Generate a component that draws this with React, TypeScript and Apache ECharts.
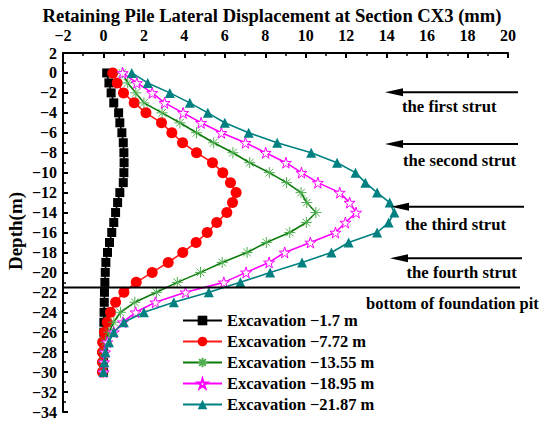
import React, { useEffect, useRef } from "react";
import * as echarts from "echarts";

const depths = [0, -1, -2, -3, -4, -5, -6, -7, -8, -9, -10, -11, -12, -13, -14, -15, -16, -17, -18, -19, -20, -21, -22, -23, -24, -25, -26, -27, -28, -29, -30];

const seriesNames = [
  "Excavation \u22121.7 m",
  "Excavation \u22127.72 m",
  "Excavation \u221213.55 m",
  "Excavation \u221218.95 m",
  "Excavation \u221221.87 m",
];

const exc1 = [0.16, 0.27, 0.38, 0.51, 0.75, 0.81, 0.91, 0.98, 1.01, 1.02, 1.01, 0.98, 0.81, 0.7, 0.6, 0.51, 0.41, 0.3, 0.2, 0.12, 0.09, 0.07, 0.05, 0.04, 0.03, 0.02, 0.02, 0.01, 0.01, 0.0, 0.0];
const exc2 = [0.46, 0.68, 0.99, 1.52, 2.1, 2.87, 3.38, 3.91, 4.6, 5.39, 5.9, 6.28, 6.56, 6.38, 6.1, 5.6, 5.13, 4.58, 3.92, 3.2, 2.41, 1.62, 1.01, 0.6, 0.35, 0.19, 0.05, -0.04, -0.05, -0.05, -0.05];
const exc3 = [0.93, 1.2, 1.6, 2.0, 2.9, 3.78, 4.6, 5.45, 6.4, 7.23, 8.2, 9.05, 9.77, 10.05, 10.5, 10.03, 9.21, 8.05, 7.1, 5.87, 4.8, 3.65, 2.62, 1.55, 0.84, 0.51, 0.27, 0.1, 0.02, 0.0, 0.0];
const exc4 = [0.95, 1.65, 2.41, 3.02, 3.94, 4.83, 5.83, 7.02, 8.02, 9.02, 9.79, 10.6, 11.68, 12.17, 12.49, 11.96, 11.47, 10.23, 8.96, 8.19, 7.05, 5.95, 4.06, 2.57, 1.59, 0.96, 0.51, 0.19, 0.08, 0.03, 0.0];
const exc5 = [1.4, 2.19, 3.28, 4.27, 5.16, 6.0, 7.18, 8.59, 10.27, 11.55, 12.46, 12.95, 13.53, 14.15, 14.38, 14.1, 13.53, 12.12, 11.27, 9.82, 8.24, 6.77, 5.21, 3.48, 2.0, 1.01, 0.51, 0.27, 0.1, 0.05, 0.0];

const strutLabels = ["the first strut", "the second strut", "the third strut", "the fourth strut"];
const pitLabel = "bottom of foundation pit";
const titleText = "Retaining Pile Lateral Displacement at Section CX3 (mm)";
const yName = "Depth(m)";

const FONT = "'Times New Roman', 'Liberation Serif', serif";
const STAR = "path://M50,0 L61,35 L98,35 L68,57 L79,91 L50,70 L21,91 L32,57 L2,35 L39,35 Z";
const ASTER = "path://M0,50 L100,50 M50,0 L50,100 M15,15 L85,85 M15,85 L85,15";

const minus = (v: number) => String(v).replace("-", "\u2212");

export default function App() {
  const ref = useRef<HTMLDivElement>(null);
  useEffect(() => {
    if (!ref.current) return;
    const chart = echarts.init(ref.current, undefined, { renderer: "svg" });
    const values = [exc1, exc2, exc3, exc4, exc5];
    const styles = [
      { symbol: "rect", size: 9, line: "#000000", item: { color: "#000000" } },
      { symbol: "circle", size: 11, line: "#ff1a1a", item: { color: "#ff0000" } },
      { symbol: ASTER, size: 11, line: "#0a7a0a", item: { color: "none", borderColor: "#4fae4f", borderWidth: 1 } },
      { symbol: STAR, size: 11, line: "#ff00ff", item: { color: "#ffffff", borderColor: "#ff00ff", borderWidth: 1 } },
      { symbol: "triangle", size: 10, line: "#008080", item: { color: "#008080" } },
    ];
    const series = values.map((vals, i) => ({
      name: seriesNames[i],
      type: "line",
      data: vals.map((v, j) => [v, depths[j]]),
      symbol: styles[i].symbol,
      symbolSize: styles[i].size,
      lineStyle: { color: styles[i].line, width: 1.6 },
      itemStyle: styles[i].item,
      z: 2 + i,
    }));

    const arrows = [
      { y: 92.3, x1: 385, x2: 518, tx: 402, ty: 106.7 },
      { y: 144, x1: 385, x2: 518, tx: 403, ty: 160 },
      { y: 206.7, x1: 391, x2: 524, tx: 405, ty: 224 },
      { y: 258.3, x1: 390, x2: 522, tx: 406.5, ty: 272 },
    ];
    const graphics: any[] = [
      {
        type: "text",
        x: 272,
        y: 15,
        style: { text: titleText, font: `bold 18.6px ${FONT}`, fill: "#000", align: "center", verticalAlign: "middle" },
      },
      {
        type: "text",
        x: 15,
        y: 231,
        rotation: Math.PI / 2,
        style: { text: yName, font: `bold 19px ${FONT}`, fill: "#000", align: "center", verticalAlign: "middle" },
      },
      {
        type: "line",
        shape: { x1: 63, y1: 287.5, x2: 520, y2: 287.5 },
        style: { stroke: "#000", lineWidth: 2 },
        z: 10,
      },
      {
        type: "text",
        x: 366,
        y: 303.5,
        style: { text: pitLabel, font: `bold 16.5px ${FONT}`, fill: "#000", align: "left", verticalAlign: "middle" },
      },
    ];
    arrows.forEach((a, i) => {
      graphics.push({
        type: "line",
        shape: { x1: a.x1 + 12, y1: a.y, x2: a.x2, y2: a.y },
        style: { stroke: "#000", lineWidth: 2 },
        z: 10,
      });
      graphics.push({
        type: "polygon",
        shape: { points: [[a.x1, a.y], [a.x1 + 18, a.y - 4], [a.x1 + 18, a.y + 4]] },
        style: { fill: "#000" },
        z: 10,
      });
      graphics.push({
        type: "text",
        x: a.tx,
        y: a.ty,
        style: { text: strutLabels[i], font: `bold 16.7px ${FONT}`, fill: "#000", align: "left", verticalAlign: "middle" },
        z: 10,
      });
    });

    chart.setOption({
      animation: false,
      backgroundColor: "#ffffff",
      grid: { left: 63, top: 53, right: 42, bottom: 12, containLabel: false },
      xAxis: {
        type: "value",
        position: "top",
        min: -2,
        max: 20,
        interval: 2,
        axisLine: { show: true, onZero: false, lineStyle: { color: "#000", width: 2 } },
        axisTick: { show: true, inside: true, length: 5, lineStyle: { color: "#000", width: 2 } },
        minorTick: { show: true, splitNumber: 2, length: 3, lineStyle: { color: "#000", width: 1.5 } },
        splitLine: { show: false },
        axisLabel: {
          color: "#000",
          fontFamily: FONT,
          fontWeight: "bold",
          fontSize: 16,
          margin: 10,
          formatter: (v: number) => minus(v),
        },
      },
      yAxis: {
        type: "value",
        min: -34,
        max: 2,
        interval: 2,
        axisLine: { show: true, onZero: false, lineStyle: { color: "#000", width: 2 } },
        axisTick: { show: true, inside: true, length: 5, lineStyle: { color: "#000", width: 2 } },
        minorTick: { show: true, splitNumber: 2, length: 3, lineStyle: { color: "#000", width: 1.5 } },
        splitLine: { show: false },
        axisLabel: {
          color: "#000",
          fontFamily: FONT,
          fontWeight: "bold",
          fontSize: 16,
          margin: 6,
          formatter: (v: number) => minus(v),
        },
      },
      legend: {
        show: true,
        orient: "vertical",
        left: 182,
        top: 312,
        padding: 0,
        itemWidth: 39,
        itemHeight: 12,
        itemGap: 4,
        data: seriesNames,
        textStyle: { color: "#000", fontFamily: FONT, fontWeight: "bold", fontSize: 16.5, lineHeight: 17 },
      },
      series,
      graphic: graphics,
    });
    return () => chart.dispose();
  }, []);
  return <div ref={ref} style={{ position: "fixed", left: 0, top: 0, width: 550, height: 424, background: "#fff" }} />;
}
